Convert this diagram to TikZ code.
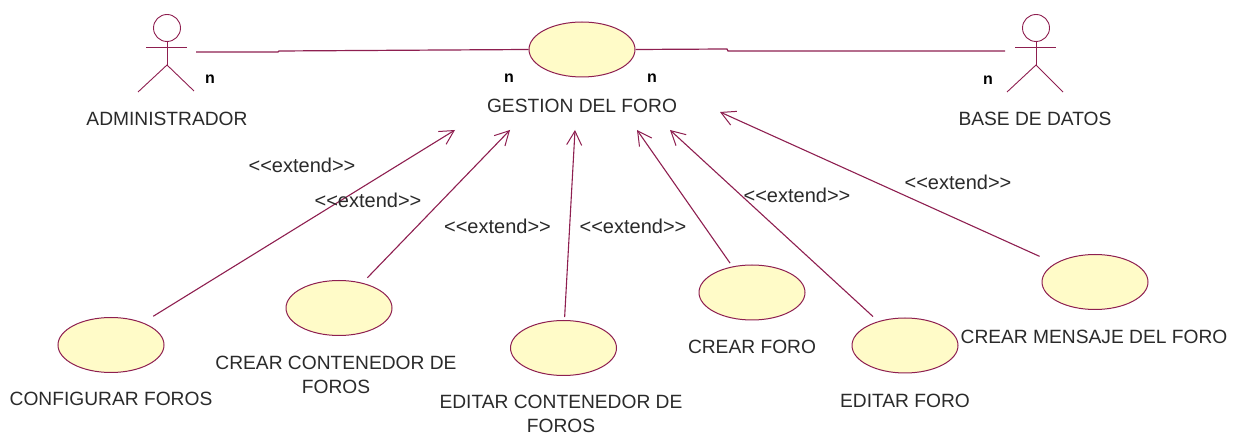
\documentclass[tikz,border=0pt]{standalone}
\usepackage{fontspec}
\setmainfont{Liberation Sans}
\usetikzlibrary{shapes.geometric,arrows.meta}
\definecolor{rose}{HTML}{8E1F50}
\definecolor{ucfill}{HTML}{FFFBC8}
\definecolor{ink}{HTML}{2A2A2A}
\tikzset{
  uc/.style={ellipse,draw=rose,fill=ucfill,line width=1pt,inner sep=0pt,minimum width=106pt,minimum height=55pt},
  lbl/.style={text=ink,font=\fontsize{19.2}{24}\selectfont,align=center,inner sep=0pt},
  ster/.style={text=ink,font=\fontsize{20}{22}\selectfont,inner sep=0pt},
  card/.style={text=black,font=\bfseries\fontsize{16}{18}\selectfont,inner sep=0pt},
  assoc/.style={draw=rose,line width=1.2pt},
  dep/.style={draw=rose,line width=1.1pt,-{Straight Barb[length=14pt,width=15pt,line width=1pt]}},
  actor/.style={draw=rose,line width=0.9pt},
  head/.style={circle,draw=rose,line width=0.9pt,inner sep=0pt,minimum size=27pt}
}
\begin{document}
\begin{tikzpicture}[x=1pt,y=-1pt]
\useasboundingbox (0,0) rectangle (1242,435);
% actors
\node[head] (ah) at (167,28) {};
\coordinate (ah1) at (146,47);
\coordinate (ah2) at (187,47);
\coordinate (ahip) at (167,65);
\coordinate (al1) at (138,92);
\coordinate (al2) at (194,91);
\draw[actor] (ah) -- (ahip);
\draw[actor] (ah1) -- (ah2);
\draw[actor] (al1) -- (ahip) -- (al2);
\node[head] (bh) at (1036,28) {};
\coordinate (bh1) at (1015,47);
\coordinate (bh2) at (1056,47);
\coordinate (bhip) at (1036,65);
\coordinate (bl1) at (1007,92);
\coordinate (bl2) at (1063,92);
\draw[actor] (bh) -- (bhip);
\draw[actor] (bh1) -- (bh2);
\draw[actor] (bl1) -- (bhip) -- (bl2);
% use cases
\node[uc] (main) at (582,49.5) {};
\node[uc] (e1) at (111,345) {};
\node[uc] (e2) at (339,308) {};
\node[uc] (e3) at (563.5,348) {};
\node[uc] (e4) at (752,292.5) {};
\node[uc] (e5) at (905,345.5) {};
\node[uc] (e6) at (1095,282) {};
% association ends
\coordinate (aend) at (196,52);
\coordinate (abend) at (278,52);
\coordinate (acorn) at (279,51);
\coordinate (bend1) at (727,49);
\coordinate (bcorn) at (728,51);
\coordinate (bend) at (1005,51);
\draw[assoc] (aend) -- (abend) -- (acorn) -- (main.west);
\draw[assoc] (main.east) -- (bend1) -- (bcorn) -- (bend);
% dependency targets
\coordinate (t1) at (455,130);
\coordinate (t2) at (510,130);
\coordinate (t3) at (575,130);
\coordinate (t4) at (637,130);
\coordinate (t5) at (670,130);
\coordinate (t6) at (720,112);
\draw[dep,shorten <=12pt] (e1.35) -- (t1);
\draw[dep,shorten <=7pt] (e2.47) -- (t2);
\draw[dep,shorten <=3pt] (e3.88) -- (t3);
\draw[dep,shorten <=4pt] (e4.127) -- (t4);
\draw[dep,shorten <=7pt] (e5.138) -- (t5);
\draw[dep,shorten <=17pt] (e6.155) -- (t6);
% labels
\node[lbl] (ladm) at (167,119) {ADMINISTRADOR};
\node[lbl] (lmain) at (582,106) {GESTION DEL FORO};
\node[lbl] (lbd) at (1035,118.5) {BASE DE DATOS};
\node[lbl] (l1) at (111,399) {CONFIGURAR FOROS};
\node[lbl] (l2) at (336,375) {CREAR CONTENEDOR DE\\FOROS};
\node[lbl] (l3) at (561,414) {EDITAR CONTENEDOR DE\\FOROS};
\node[lbl] (l4) at (752,347) {CREAR FORO};
\node[lbl] (l5) at (905,400.5) {EDITAR FORO};
\node[lbl] (l6) at (1094,337) {CREAR MENSAJE DEL FORO};
\node[card] (n1) at (210,79) {n};
\node[card] (n2) at (509,78) {n};
\node[card] (n3) at (652,78) {n};
\node[card] (n4) at (988,80) {n};
\node[ster] (s1) at (302,165.5) {<{}<extend>{}>};
\node[ster] (s2) at (368,200) {<{}<extend>{}>};
\node[ster] (s3) at (497.5,226) {<{}<extend>{}>};
\node[ster] (s4) at (633,226) {<{}<extend>{}>};
\node[ster] (s5) at (797,195) {<{}<extend>{}>};
\node[ster] (s6) at (958,182) {<{}<extend>{}>};
\end{tikzpicture}
\end{document}
